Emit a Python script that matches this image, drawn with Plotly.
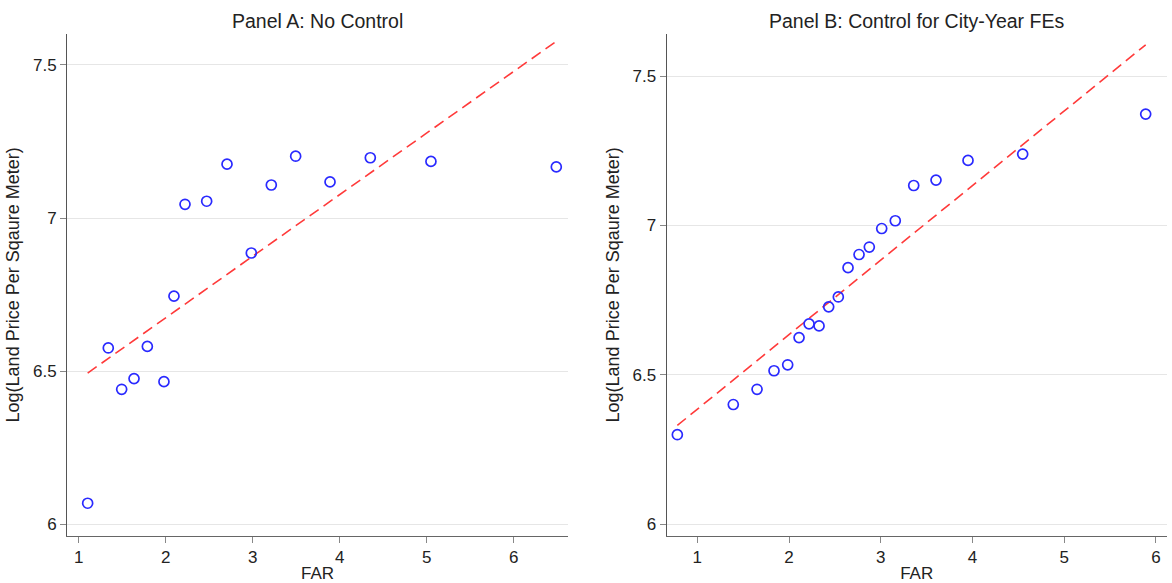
import plotly.graph_objects as go

# Panel A: No Control
far_a = [1.103, 1.340, 1.494, 1.636, 1.789, 1.980, 2.095, 2.222, 2.471, 2.705,
         2.984, 3.214, 3.494, 3.889, 4.352, 5.049, 6.490]
price_a = [6.069, 6.576, 6.441, 6.476, 6.581, 6.466, 6.745, 7.045, 7.055, 7.176,
           6.886, 7.108, 7.202, 7.118, 7.197, 7.185, 7.167]
fit_a_x = [1.103, 6.494]
fit_a_y = [6.494, 7.578]

# Panel B: Control for City-Year FEs
far_b = [0.782, 1.392, 1.651, 1.836, 1.985, 2.109, 2.218, 2.327, 2.432, 2.537,
         2.643, 2.763, 2.875, 3.010, 3.158, 3.359, 3.602, 3.951, 4.547, 5.888]
price_b = [6.300, 6.401, 6.452, 6.514, 6.534, 6.625, 6.671, 6.664, 6.728, 6.761,
           6.859, 6.903, 6.928, 6.990, 7.016, 7.134, 7.152, 7.218, 7.239, 7.373]
fit_b_x = [0.782, 5.888]
fit_b_y = [6.331, 7.605]

titles = ["Panel A: No Control", "Panel B: Control for City-Year FEs"]
x_title = "FAR"
y_title = "Log(Land Price Per Sqaure Meter)"
x_ticks = [1, 2, 3, 4, 5, 6]
y_ticks = [6, 6.5, 7, 7.5]
y_ticklabels = ["6", "6.5", "7", "7.5"]

FONT = "Liberation Sans, Arial, sans-serif"
TXT = "#222222"
BLUE = "#2a2aff"
RED = "#ff3a3a"

fig = go.Figure()

for i, (fx, fy, lx, ly) in enumerate([(far_a, price_a, fit_a_x, fit_a_y),
                                      (far_b, price_b, fit_b_x, fit_b_y)]):
    xa = "x" if i == 0 else "x2"
    ya = "y" if i == 0 else "y2"
    fig.add_trace(go.Scatter(
        x=lx, y=ly, mode="lines", xaxis=xa, yaxis=ya,
        line=dict(color=RED, width=1.6, dash="11px,6px"), showlegend=False,
        hoverinfo="skip"))
    fig.add_trace(go.Scatter(
        x=fx, y=fy, mode="markers", xaxis=xa, yaxis=ya,
        marker=dict(symbol="circle-open", size=10, color=BLUE,
                    line=dict(width=1.7, color=BLUE)),
        showlegend=False))

W, H = 1172, 583
dom_a = [67.3 / W, 567.7 / W]
dom_b = [666.7 / W, 1166.7 / W]
dom_y = [(H - 535.7) / H, (H - 34) / H]

def xaxis_cfg(dom, rng, anchor):
    return dict(domain=dom, range=rng, anchor=anchor,
                tickvals=x_ticks, ticktext=[str(t) for t in x_ticks],
                showgrid=False, zeroline=False,
                showline=True, linecolor="#666666", linewidth=1.3,
                ticks="outside", ticklen=6, tickcolor="#888888", tickwidth=1.3,
                tickfont=dict(family=FONT, size=17, color=TXT),
                title=dict(text=x_title, standoff=2,
                           font=dict(family=FONT, size=17, color=TXT)))

def yaxis_cfg(rng, anchor):
    return dict(domain=dom_y, range=rng, anchor=anchor,
                tickvals=y_ticks, ticktext=y_ticklabels,
                showgrid=True, gridcolor="#e6e6e6", gridwidth=1.3,
                zeroline=False,
                showline=True, linecolor="#555555", linewidth=1.3,
                ticks="outside", ticklen=6, tickcolor="#888888", tickwidth=1.3,
                tickfont=dict(family=FONT, size=17, color=TXT),
                title=dict(text=y_title, standoff=8,
                           font=dict(family=FONT, size=18, color=TXT)))

fig.update_layout(
    width=W, height=H,
    margin=dict(l=0, r=0, t=0, b=0),
    paper_bgcolor="white", plot_bgcolor="white",
    xaxis=xaxis_cfg(dom_a, [0.869, 6.621], "y"),
    yaxis=yaxis_cfg([5.963, 7.601], "x"),
    xaxis2=xaxis_cfg(dom_b, [0.666, 6.117], "y2"),
    yaxis2=yaxis_cfg([5.962, 7.641], "x2"),
    annotations=[
        dict(text=titles[0], x=(dom_a[0] + dom_a[1]) / 2, y=1 - 21 / H,
             xref="paper", yref="paper", showarrow=False,
             xanchor="center", yanchor="middle",
             font=dict(family=FONT, size=19.5, color=TXT)),
        dict(text=titles[1], x=(dom_b[0] + dom_b[1]) / 2, y=1 - 21 / H,
             xref="paper", yref="paper", showarrow=False,
             xanchor="center", yanchor="middle",
             font=dict(family=FONT, size=19.5, color=TXT)),
    ],
)

fig.write_html("out.html",
               config={"displayModeBar": False},
               post_script="document.body.style.margin='0';"
                           "document.body.style.overflow='hidden';")
